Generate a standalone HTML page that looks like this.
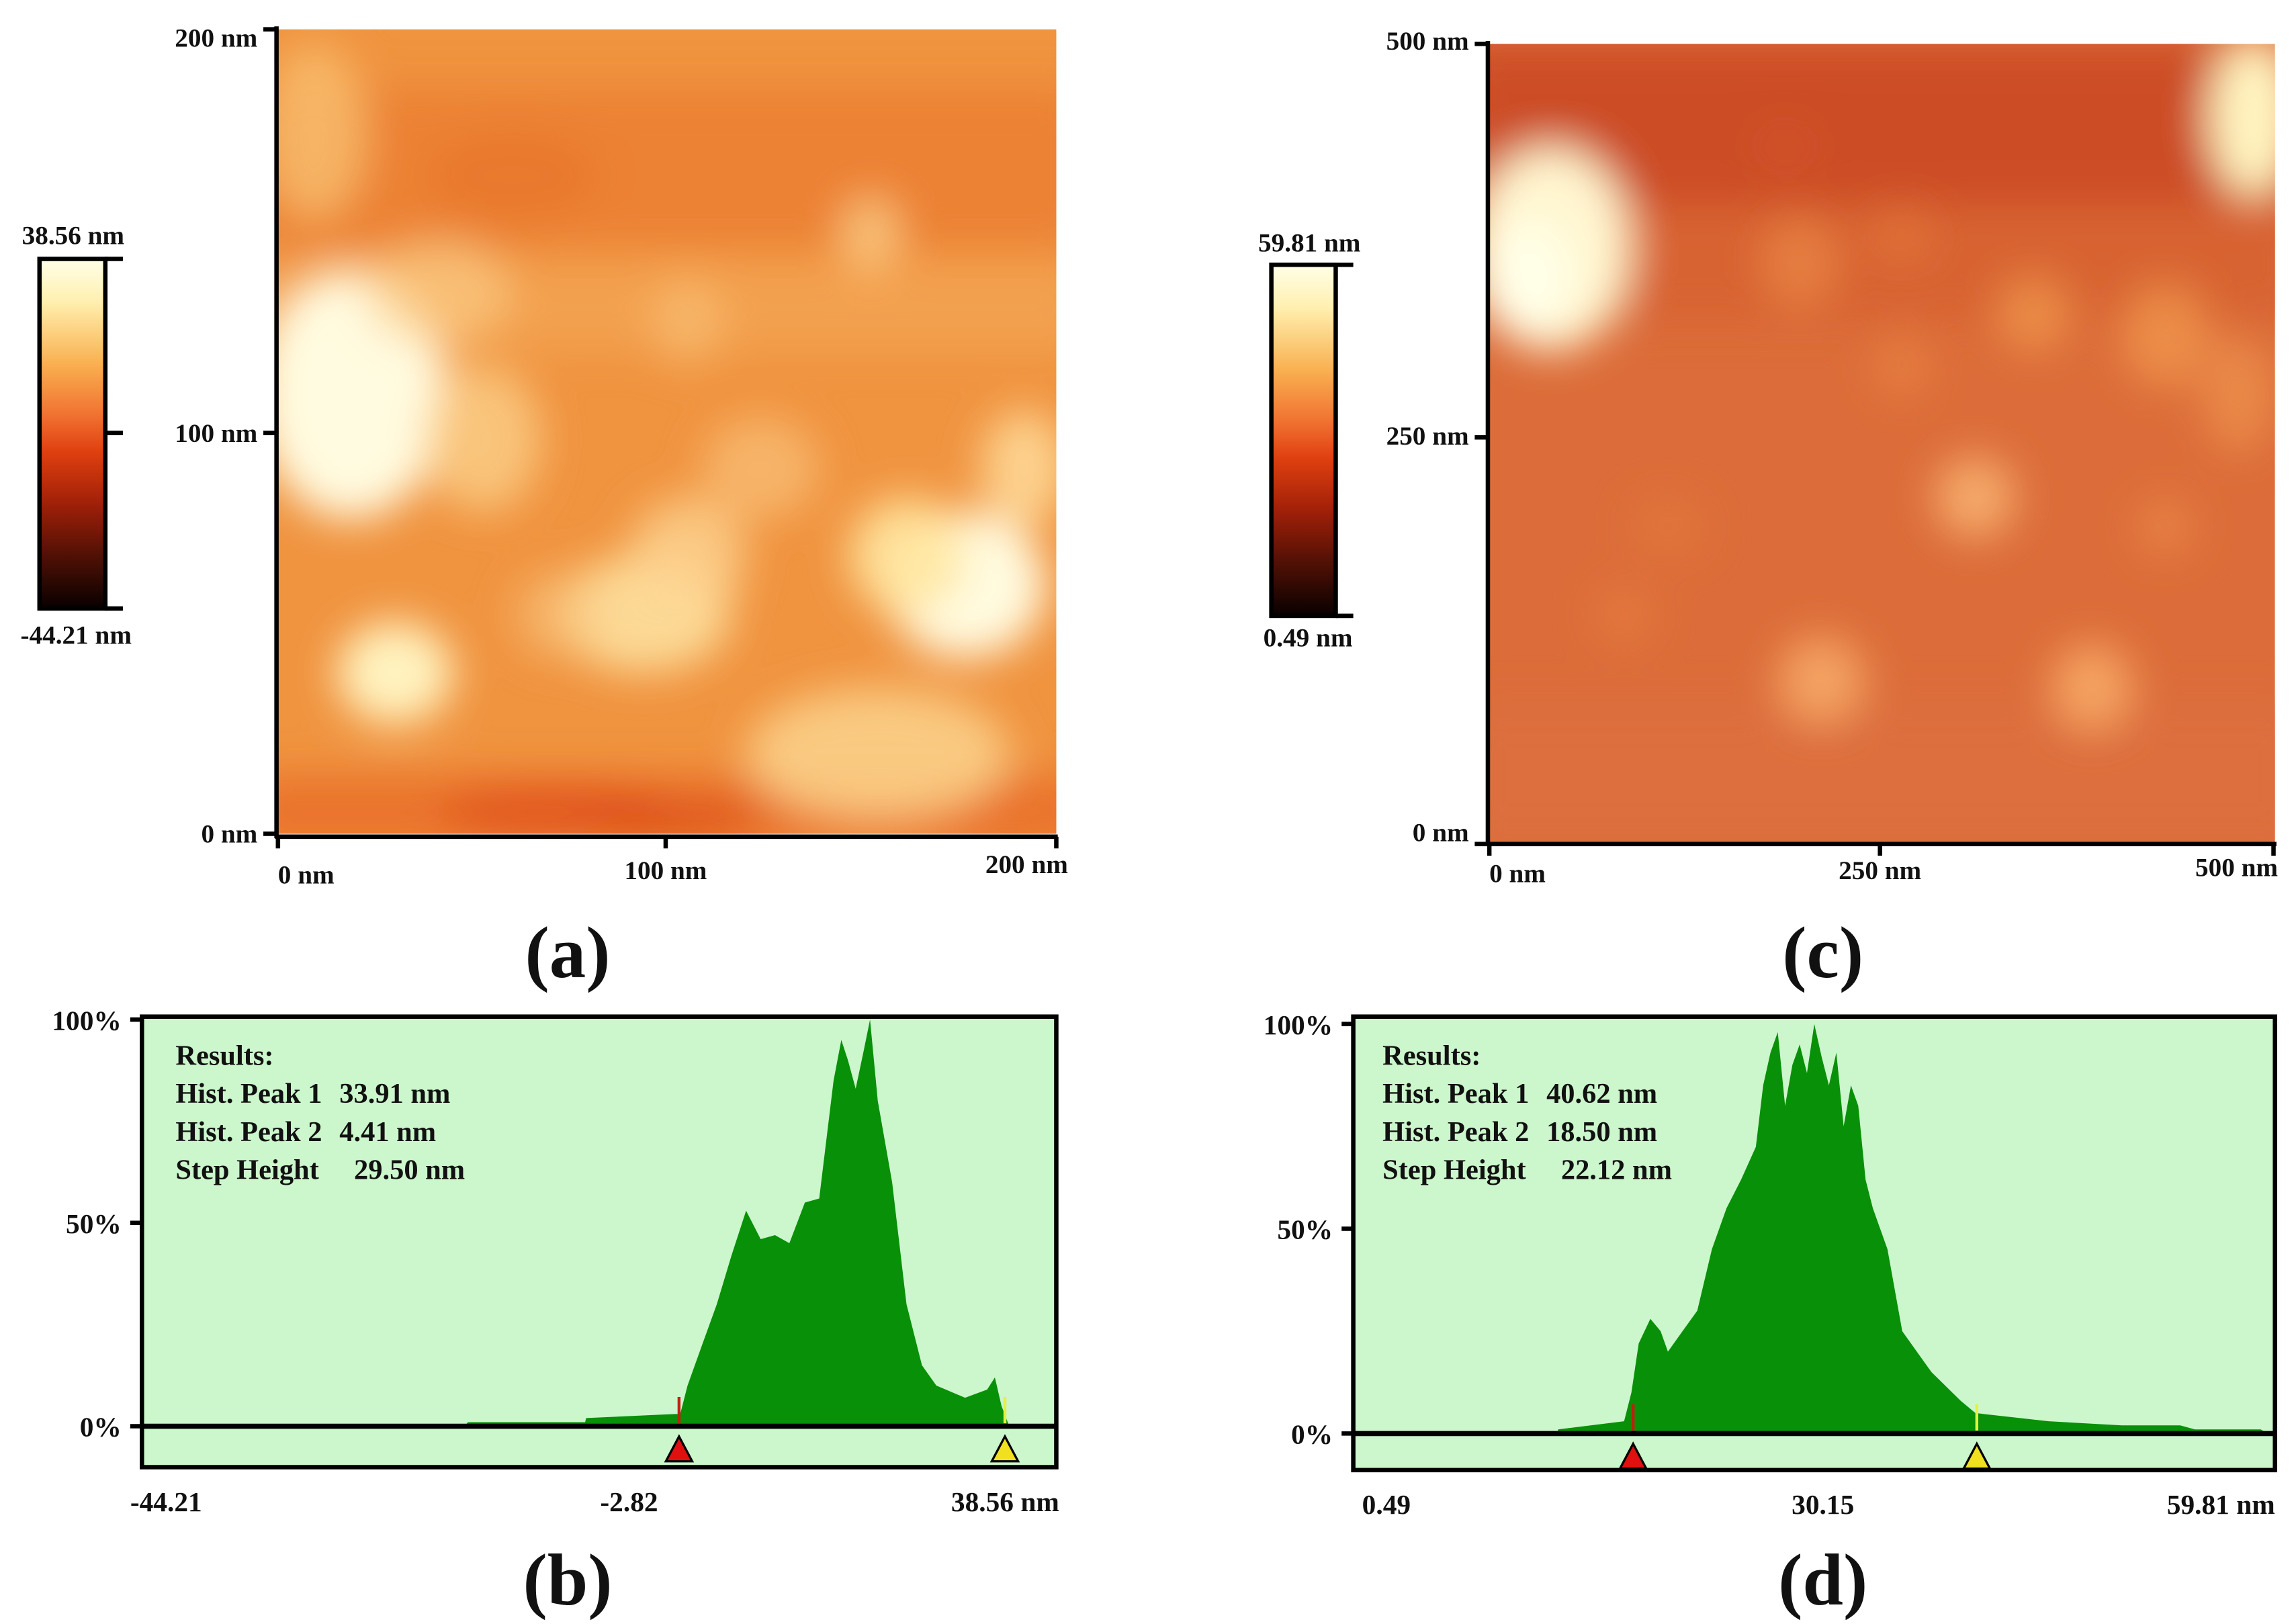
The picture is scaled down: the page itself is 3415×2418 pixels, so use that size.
<!DOCTYPE html>
<html><head><meta charset="utf-8"><style>
html,body{margin:0;padding:0;background:#fff}
svg{display:block}
text{font-family:"Liberation Serif",serif;font-weight:bold;fill:#111}
</style></head><body>
<svg id="fig" width="3415" height="2418" viewBox="0 0 1568 1110.2" xmlns="http://www.w3.org/2000/svg">
<defs>
<linearGradient id="cbar" x1="0" y1="0" x2="0" y2="1">
<stop offset="0" stop-color="#ffffe8"/><stop offset="0.12" stop-color="#fff0b0"/><stop offset="0.3" stop-color="#f9b050"/><stop offset="0.45" stop-color="#f07030"/><stop offset="0.55" stop-color="#e04010"/><stop offset="0.7" stop-color="#a02008"/><stop offset="0.85" stop-color="#501005"/><stop offset="1" stop-color="#080000"/>
</linearGradient>
<filter id="blur" x="-20%" y="-20%" width="140%" height="140%"><feGaussianBlur stdDeviation="14"/></filter>
<clipPath id="clipA"><rect x="190" y="20" width="532" height="550"/></clipPath>
<clipPath id="clipC"><rect x="1018" y="30" width="537" height="547"/></clipPath>
</defs>
<g id="panelA" clip-path="url(#clipA)"></g>
<g id="panelC" clip-path="url(#clipC)"></g>
<g id="static"></g>
<g id="histB"></g>
<g id="histD"></g>
</svg>
<script>
// ---- histogram data (nm, percent) ----
const histBx=[-44.21,-15.0,-14.7,-4.09,-4.0,4.0,4.52,5.18,6.5,7.83,9.16,10.48,11.8,13.1,14.4,15.8,17.1,18.4,19.1,19.7,20.4,21.1,21.7,22.4,23.7,25.0,26.4,27.7,30.3,32.3,33.0,33.6,34.3,38.56];
const histBy=[0,0,1,1,2,3,3,10,20,30,42,53,46,47,45,55,56,85,95,90,83,92,100,80,60,30,15,10,7,9,12,5,0,0];
const histBdomain=[-44.21,38.56];
const histBpeaks=[33.91,4.41];
const histBticks=["-44.21","-2.82","38.56 nm"];
const histBresults=["Results:","Hist. Peak 1","Hist. Peak 2","Step Height"];
const histBvalues=["33.91 nm","4.41 nm","29.50 nm"];

const histDx=[0.49,13.6,13.68,17.92,18.39,18.86,19.61,20.27,20.74,21.68,22.63,23.57,24.51,25.45,26.4,26.87,27.34,27.81,28.28,28.75,29.22,29.69,30.16,30.63,31.1,31.58,32.05,32.52,32.99,33.46,33.93,34.87,35.82,36.76,37.7,39.58,40.53,45.24,49.95,53.71,54.65,58.89,59.36,59.81];
const histDy=[0,0,1,3,10,22,28,25,20,25,30,45,55,62,70,85,93,98,80,90,95,88,100,92,85,93,75,85,80,62,55,45,25,20,15,8,5,3,2,2,1,1,0,0];
const histDdomain=[0.49,59.81];
const histDpeaks=[40.62,18.50];
const histDticks=["0.49","30.15","59.81 nm"];
const histDvalues=["40.62 nm","18.50 nm","22.12 nm"];

const NS="http://www.w3.org/2000/svg";
function mk(parent,tag,attrs,txt){const e=document.createElementNS(NS,tag);for(const k in attrs)e.setAttribute(k,attrs[k]);if(txt!==undefined)e.textContent=txt;parent.appendChild(e);return e;}

// ---- AFM images (blobs) ----
function afm(g,x0,y0,w,h,base,bands,blobs){
  mk(g,'rect',{x:x0,y:y0,width:w,height:h,fill:base});
  const f=mk(g,'g',{filter:'url(#blur)'});
  bands.forEach(b=>mk(f,'rect',{x:x0-20,y:b[0],width:w+40,height:b[1],fill:b[2],opacity:b[3]}));
  blobs.forEach(b=>mk(f,'ellipse',{cx:b[0],cy:b[1],rx:b[2],ry:b[3],fill:b[4],opacity:b[5]}));
}
afm(document.getElementById('panelA'),190,20,532,550,'#f09440',
 [[60,110,'#ea7a30',0.7],[180,60,'#f5ae5e',0.5],[530,50,'#e86a28',0.8]],
 [[240,270,65,85,'#fffbe0',1],[215,90,35,60,'#f9c070',0.8],[270,460,40,35,'#fff3c0',1],[660,400,55,50,'#fffbe0',1],[620,380,40,40,'#ffe6a0',0.9],
  [700,320,30,40,'#ffe0a0',0.8],[600,515,90,45,'#fbcf88',0.9],[440,420,60,40,'#fde1a0',0.9],[470,380,40,40,'#fcd592',0.8],[330,300,40,50,'#fbd08a',0.8],
  [300,200,50,35,'#fbcb84',0.7],[520,320,40,35,'#f9c27a',0.7],[595,160,20,25,'#fbd08a',0.8],[470,220,25,30,'#f9c27a',0.6],[380,420,30,30,'#f9c27a',0.6],
  [380,555,80,18,'#e05018',0.8],[460,560,60,12,'#d84414',0.7],[350,120,60,30,'#e57028',0.5]]);
afm(document.getElementById('panelC'),1018,30,537,547,'#dc6d3a',
 [[30,110,'#c84422',0.8],[140,80,'#d45a2e',0.5],[480,100,'#dd7240',0.5]],
 [[1060,170,55,70,'#fff6d0',1],[1045,190,30,40,'#ffffe8',1],[1540,80,30,55,'#fff4c0',1],[1350,340,28,28,'#f7b070',0.9],[1245,465,30,30,'#f6a868',0.9],
  [1430,470,28,30,'#f7a866',0.9],[1390,215,25,25,'#f0964e',0.8],[1230,180,25,30,'#ec8a48',0.7],[1300,250,20,20,'#ea8444',0.7],[1480,230,30,35,'#f0964e',0.8],
  [1530,270,25,40,'#f0964e',0.7],[1480,360,20,20,'#ec8a48',0.7],[1110,420,20,20,'#e98040',0.6],[1140,360,25,20,'#e57a3e',0.6],[1300,160,20,20,'#e57a3e',0.6],[1220,100,20,15,'#d85a30',0.5]]);

// ---- static axes etc ----
const S=document.getElementById('static');
function txt(x,y,s,size,anchor,name){const t=mk(S,'text',{x:x,y:y,'font-size':size,'text-anchor':anchor||'start'},s);return t;}
function line(x1,y1,x2,y2,w){mk(S,'line',{x1:x1,y1:y1,x2:x2,y2:y2,stroke:'#000','stroke-width':w||3});}

// image a axes
line(189,18,189,573,3);line(188,572,723,572,3);
[[20,'200 nm',26],[296,'100 nm',296],[570,'0 nm',570]].forEach(t=>{line(180,t[0],190,t[0],3);txt(176,t[2]+6,t[1],18,'end','y-tick-a');});
line(190,572,190,580,3);line(455,572,455,580,3);line(722,572,722,580,3);
txt(190,604,'0 nm',18,'start','x-tick-a');txt(455,601,'100 nm',18,'middle','x-tick-a');txt(730,597,'200 nm',18,'end','x-tick-a');
// colorbar a
mk(S,'rect',{x:27,y:177,width:45,height:239,fill:'url(#cbar)',stroke:'#000','stroke-width':3});
line(72,177,84,177,3);line(72,296,84,296,3);line(72,416,84,416,3);
txt(50,167,'38.56 nm',18,'middle','colorbar-max-a');txt(52,440,'-44.21 nm',18,'middle','colorbar-min-a');
// image c axes
line(1017,28,1017,578,3);line(1016,577,1556,577,3);
[[30,'500 nm',34],[299,'250 nm',304],[577,'0 nm',575]].forEach(t=>{line(1008,t[0],1018,t[0],3);txt(1004,t[2],t[1],18,'end','y-tick-c');});
line(1018,577,1018,585,3);line(1285,577,1285,585,3);line(1554,577,1554,585,3);
txt(1018,603,'0 nm',18,'start','x-tick-c');txt(1285,601,'250 nm',18,'middle','x-tick-c');txt(1557,599,'500 nm',18,'end','x-tick-c');
// colorbar c
mk(S,'rect',{x:869,y:181,width:44,height:240,fill:'url(#cbar)',stroke:'#000','stroke-width':3});
line(913,181,925,181,3);line(913,421,925,421,3);
txt(895,172,'59.81 nm',18,'middle','colorbar-max-c');txt(894,442,'0.49 nm',18,'middle','colorbar-min-c');
// panel labels
txt(388,668,'(a)',50,'middle','panel-label-a');txt(388,1097,'(b)',50,'middle','panel-label-b');
txt(1246,668,'(c)',50,'middle','panel-label-c');txt(1246,1097,'(d)',50,'middle','panel-label-d');

// ---- histograms ----
function hist(gid,fx0,fx1,fy0,fy1,zeroY,topY,dom,xs,ys,peaks,ticks,results,values,lblX,tx){
  const g=document.getElementById(gid);
  const sx=v=>fx0+(v-dom[0])/(dom[1]-dom[0])*(fx1-fx0);
  const sy=p=>zeroY-p/100*(zeroY-topY);
  const bg=mk(g,'rect',{x:fx0,y:fy0,width:fx1-fx0,height:fy1-fy0,fill:'#ccf6cc'});
  
  
  let d='M'+sx(xs[0])+','+sy(0);
  for(let i=0;i<xs.length;i++){d+=' L'+sx(xs[i]).toFixed(2)+','+sy(ys[i]).toFixed(2);}
  d+=' L'+sx(xs[xs.length-1])+','+sy(0)+' Z';
  const area=mk(g,'path',{d:d,fill:'#089008'});
  
  
  const fr=mk(g,'rect',{x:fx0,y:fy0,width:fx1-fx0,height:fy1-fy0,fill:'none',stroke:'#000','stroke-width':3});
  
  
  mk(g,'line',{x1:fx0,y1:zeroY,x2:fx1,y2:zeroY,stroke:'#000','stroke-width':3.5});
  [[100,'100%'],[50,'50%'],[0,'0%']].forEach(t=>{
    mk(g,'line',{x1:fx0-8,y1:sy(t[0]),x2:fx0,y2:sy(t[0]),stroke:'#000','stroke-width':3});
    const l=mk(g,'text',{x:fx0-14,y:sy(t[0])+7,'font-size':19,'text-anchor':'end'},t[1]);
    
    
  });
  const cols=['#f0e020','#e01010'];
  peaks.forEach((p,i)=>{
    const x=sx(p);
    mk(g,'line',{x1:x,y1:zeroY-2,x2:x,y2:zeroY-20,stroke:i?'#c02010':'#e8f040','stroke-width':2});
    const m=mk(g,'polygon',{points:(x-9)+','+(zeroY+24)+' '+(x+9)+','+(zeroY+24)+' '+x+','+(zeroY+7),fill:cols[i],stroke:'#000','stroke-width':1.5});
    
    
  });
  ticks.forEach((t,i)=>{
    const l=mk(g,'text',{x:lblX[i],y:fy1+30,'font-size':19,'text-anchor':i==0?'start':(i==1?'middle':'end')},t);
    
    
  });
  const ry=[fy0+33,fy0+59,fy0+85,fy0+111];
  results.forEach((r,i)=>{
    const l=mk(g,'text',{x:tx,y:ry[i],'font-size':19.5},r);
    
    
    if(i>0){
      const v=mk(g,'text',{x:tx+(i==3?122:112),y:ry[i],'font-size':19.5},values[i-1]);
      
      
    }
  });
}
hist('histB',97,722,695,1003,975,697,histBdomain,histBx,histBy,histBpeaks,histBticks,histBresults,histBvalues,[89,430,724],120);
hist('histD',925,1555,695,1005,980,700,histDdomain,histDx,histDy,histDpeaks,histDticks,histBresults,histDvalues,[931,1246,1555],945);
</script>
</body></html>
